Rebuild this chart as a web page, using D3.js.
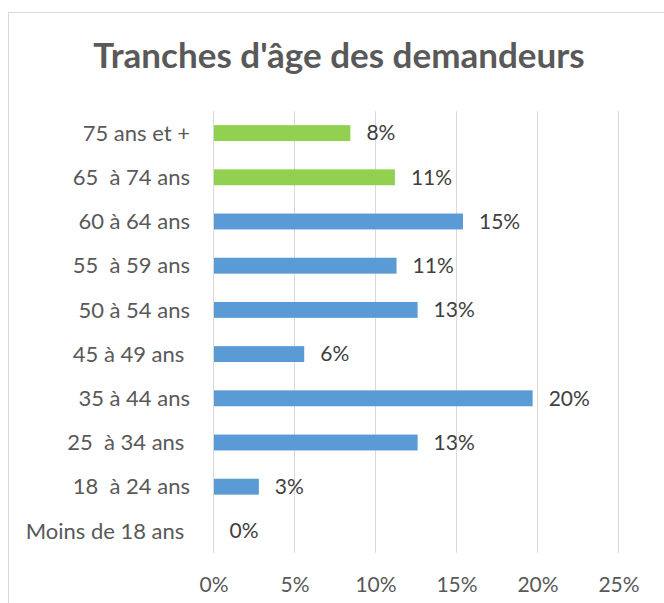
<!DOCTYPE html>
<html>
<head>
<meta charset="utf-8">
<script src="https://cdn.jsdelivr.net/npm/d3@7"></script>
<style>
  html, body { margin: 0; padding: 0; background: #fff; }
  svg { display: block; }
  text { font-family: Lato, "Open Sans", sans-serif; }
</style>
</head>
<body>
<div id="chart"></div>
<script>
const title = "Tranches d'âge des demandeurs";
const categories = ["75 ans et +", "65  à 74 ans", "60 à 64 ans", "55  à 59 ans", "50 à 54 ans",
                    "45 à 49 ans ", "35 à 44 ans", "25  à 34 ans ", "18  à 24 ans", "Moins de 18 ans "];
const values = [8.45, 11.2, 15.4, 11.3, 12.6, 5.6, 19.7, 12.6, 2.8, 0];
const barColors = ["#92D050", "#92D050", "#5B9BD5", "#5B9BD5", "#5B9BD5",
                   "#5B9BD5", "#5B9BD5", "#5B9BD5", "#5B9BD5", "#5B9BD5"];
const xTicks = [0, 5, 10, 15, 20, 25];

const W = 664, H = 603;
const svg = d3.select("#chart").append("svg").attr("width", W).attr("height", H);

// chart border
svg.append("rect").attr("x", 8.5).attr("y", 12.5).attr("width", 670).attr("height", 620)
  .attr("fill", "none").attr("stroke", "#d9d9d9").attr("stroke-width", 1);

const x = d3.scaleLinear().domain([0, 25]).range([213.5, 618.5]);
const y = d3.scaleBand().domain(categories).range([111, 553]).paddingInner(0.64).paddingOuter(0.32);

// title
svg.append("text").attr("x", 339).attr("y", 68).attr("text-anchor", "middle")
  .attr("font-size", 35).attr("font-weight", "bold").attr("fill", "#595959").text(title);

// gridlines
svg.append("g").selectAll("line").data(xTicks).join("line")
  .attr("x1", d => x(d)).attr("x2", d => x(d)).attr("y1", 111).attr("y2", 553)
  .attr("stroke", "#d9d9d9").attr("stroke-width", 1);

// x axis
const xAxis = svg.append("g").attr("transform", "translate(0,553)")
  .call(d3.axisBottom(x).tickValues(xTicks).tickFormat(d => d + "%").tickSize(0).tickPadding(0));
xAxis.select(".domain").remove();
xAxis.selectAll("text").attr("y", 39).attr("dy", 0).attr("font-size", 21).attr("fill", "#595959")
  .style("font-family", "Lato, 'Open Sans', sans-serif");

// y axis labels
const yAxis = svg.append("g").attr("transform", "translate(190,0)")
  .call(d3.axisLeft(y).tickSize(0).tickPadding(0));
yAxis.select(".domain").remove();
yAxis.selectAll("text").attr("x", 0).attr("dy", "0.35em").attr("font-size", 22).attr("fill", "#595959")
  .style("white-space", "pre").style("font-family", "Lato, 'Open Sans', sans-serif");

// bars
svg.append("g").selectAll("rect").data(values).join("rect")
  .attr("x", x(0) + 0.5)
  .attr("y", (d, i) => y(categories[i]))
  .attr("width", d => Math.max(0, x(d) - x(0) - 0.5))
  .attr("height", y.bandwidth())
  .attr("fill", (d, i) => barColors[i]);

// data labels
svg.append("g").selectAll("text").data(values).join("text")
  .attr("x", d => x(d) + 16)
  .attr("y", (d, i) => y(categories[i]) + y.bandwidth() / 2)
  .attr("dy", "0.35em")
  .attr("font-size", 21).attr("fill", "#404040")
  .text(d => d3.format(".0f")(d) + "%");
</script>
</body>
</html>
